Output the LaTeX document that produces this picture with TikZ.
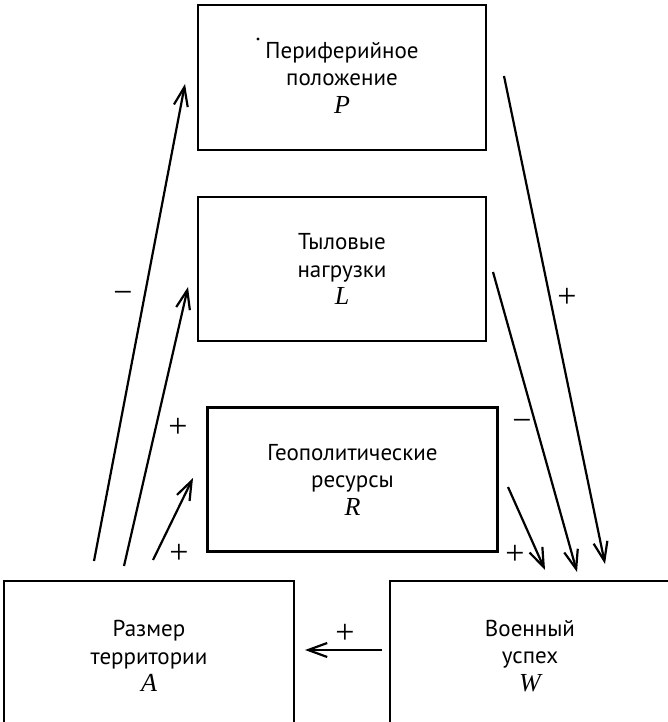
\documentclass[tikz,border=0pt]{standalone}
\usepackage{fontspec}
\setmainfont{PT Sans}
\newfontfamily\serifit{Liberation Serif}
\usetikzlibrary{arrows.meta}
\newcommand{\vv}[1]{{\serifit\itshape\fontsize{26}{27.5}\selectfont #1}}
\begin{document}
\begin{tikzpicture}[x=1pt,y=-1pt,
  box/.style={draw, line width=2.3pt, align=center, inner sep=0pt,
    font=\fontsize{23}{27.5}\selectfont},
  link/.style={line width=2.2pt, -{Straight Barb[length=19pt,width=14pt,line width=2.2pt]}},
  sign/.style={font=\serifit\fontsize{34}{34}\selectfont, inner sep=0pt}]
\useasboundingbox (0,0) rectangle (668,722);
\clip (0,0) rectangle (668,722);
\node[box, minimum width=288pt, minimum height=145pt] (P) at (342,77.5)
  {Периферийное\\положение\\\vv{P}};
\node[box, minimum width=288pt, minimum height=144pt] (L) at (342,269)
  {Тыловые\\нагрузки\\\vv{L}};
\node[box, minimum width=290pt, minimum height=144pt] (R) at (352.5,479.5)
  {Геополитические\\ресурсы\\\vv{R}};
\node[box, minimum width=290pt, minimum height=150pt] (A) at (149,656)
  {Размер\\территории\\\vv{A}};
\node[box, minimum width=280pt, minimum height=150pt] (W) at (530,656)
  {Военный\\успех\\\vv{W}};
\fill (258,39) circle (1.6pt);
% free ends
\coordinate (a1) at (94,561);
\coordinate (p1) at (185,84);
\coordinate (a2) at (124,566);
\coordinate (l1) at (188,287);
\coordinate (a3) at (153,560);
\coordinate (r1) at (193,478);
\coordinate (p2) at (504,76);
\coordinate (w1) at (605,564);
\coordinate (l2) at (493,272);
\coordinate (w2) at (577,572);
\coordinate (r2) at (508,487);
\coordinate (w3) at (545,570);
\coordinate (w4) at (382,650);
\coordinate (a4) at (305,650);
\draw[link] (a1) -- (p1);
\draw[link] (a2) -- (l1);
\draw[link] (a3) -- (r1);
\draw[link] (p2) -- (w1);
\draw[link] (l2) -- (w2);
\draw[link] (r2) -- (w3);
\draw[link] (w4) -- (a4);
\node[sign] (s1) at (123,297) {−};
\node[sign] (s2) at (178,428) {+};
\node[sign] (s3) at (179,554) {+};
\node[sign] (s4) at (567,298) {+};
\node[sign] (s5) at (522,425) {−};
\node[sign] (s6) at (515,555) {+};
\node[sign] (s7) at (345,634) {+};
\end{tikzpicture}
\end{document}
